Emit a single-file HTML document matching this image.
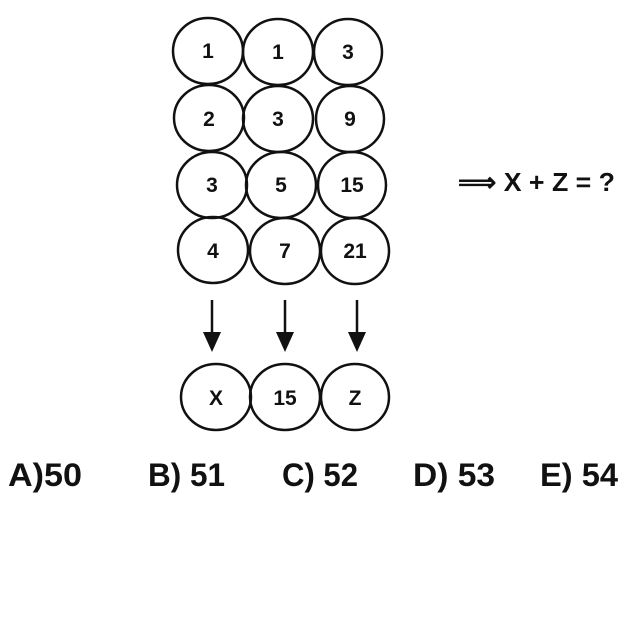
<!DOCTYPE html>
<html><head><style>
html,body{margin:0;padding:0;background:#fff;}
svg{display:block;}
text{font-family:"Liberation Sans",sans-serif;font-weight:bold;fill:#111;}
</style></head><body>
<svg width="640" height="640" viewBox="0 0 640 640">
<g fill="none" stroke="#111" stroke-width="2.5">
<ellipse cx="208" cy="51" rx="35" ry="33"/>
<ellipse cx="278" cy="52" rx="35" ry="33"/>
<ellipse cx="348" cy="52" rx="34" ry="33"/>
<ellipse cx="209" cy="118" rx="35" ry="33"/>
<ellipse cx="278" cy="119" rx="35" ry="33"/>
<ellipse cx="350" cy="119" rx="34" ry="33"/>
<ellipse cx="212" cy="185" rx="35" ry="33"/>
<ellipse cx="281" cy="185" rx="35" ry="33"/>
<ellipse cx="352" cy="185" rx="34" ry="33"/>
<ellipse cx="213" cy="250" rx="35" ry="33"/>
<ellipse cx="285" cy="251" rx="35" ry="33"/>
<ellipse cx="355" cy="251" rx="34" ry="33"/>
<ellipse cx="216" cy="397" rx="35" ry="33"/>
<ellipse cx="285" cy="397" rx="35" ry="33"/>
<ellipse cx="355" cy="397" rx="34" ry="33"/>
<line x1="212" y1="300" x2="212" y2="342"/>
<line x1="285" y1="300" x2="285" y2="342"/>
<line x1="357" y1="300" x2="357" y2="342"/>
</g>
<g fill="#111">
<polygon points="203,332 221,332 212,352"/>
<polygon points="276,332 294,332 285,352"/>
<polygon points="348,332 366,332 357,352"/>
</g>
<g font-size="21" text-anchor="middle">
<text x="208" y="58">1</text><text x="278" y="59">1</text><text x="348" y="59">3</text>
<text x="209" y="126">2</text><text x="278" y="126">3</text><text x="350" y="126">9</text>
<text x="212" y="192">3</text><text x="281" y="192">5</text><text x="352" y="192">15</text>
<text x="213" y="258">4</text><text x="285" y="258">7</text><text x="355" y="258">21</text>
<text x="216" y="405">X</text><text x="285" y="405">15</text><text x="355" y="405">Z</text>
</g>
<text x="458" y="191" font-size="26" textLength="157" lengthAdjust="spacingAndGlyphs">⟹ X + Z = ?</text>
<g font-size="32">
<text x="8" y="486" textLength="74" lengthAdjust="spacingAndGlyphs">A)50</text>
<text x="148" y="486" textLength="77" lengthAdjust="spacingAndGlyphs">B) 51</text>
<text x="282" y="486" textLength="76" lengthAdjust="spacingAndGlyphs">C) 52</text>
<text x="413" y="486" textLength="82" lengthAdjust="spacingAndGlyphs">D) 53</text>
<text x="540" y="486" textLength="78" lengthAdjust="spacingAndGlyphs">E) 54</text>
</g>
</svg>
</body></html>
